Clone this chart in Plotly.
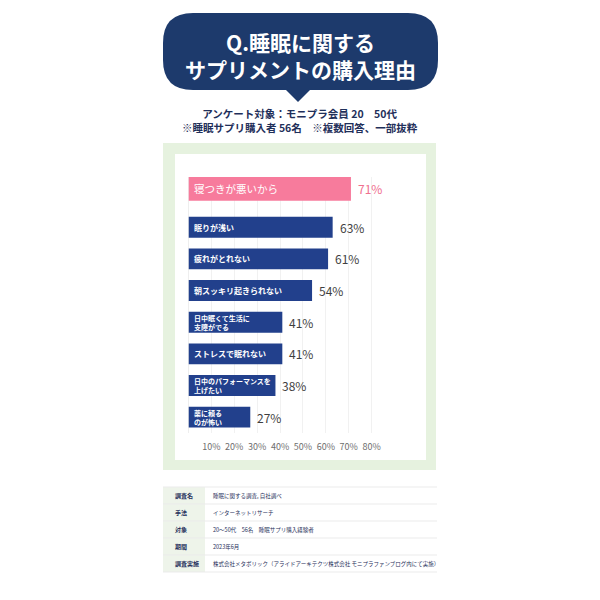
import plotly.graph_objects as go

# survey answers (top to bottom), "<br>" marks a line break inside the bar
reasons = [
    "寝つきが悪いから",
    "眠りが浅い",
    "疲れがとれない",
    "朝スッキリ起きられない",
    "日中眠くて生活に<br>支障がでる",
    "ストレスで眠れない",
    "日中のパフォーマンスを<br>上げたい",
    "薬に頼る<br>のが怖い",
]
shares = [71, 63, 61, 54, 41, 41, 38, 27]
tick_vals = [10, 20, 30, 40, 50, 60, 70, 80]

title_lines = ["Q.睡眠に関する", "サプリメントの購入理由"]
subtitle_lines = ["アンケート対象：モニプラ会員 20　50代", "※睡眠サプリ購入者 56名　※複数回答、一部抜粋"]

table_labels = ["調査名", "手法", "対象", "期間", "調査実施"]
table_values = [
    "睡眠に関する調査, 自社調べ",
    "インターネットリサーチ",
    "20〜50代　56名　睡眠サプリ購入経験者",
    "2023年6月",
    "株式会社メタボリック（アライドアーキテクツ株式会社 モニプラファンブログ内にて実施）",
]

NAVY = "#22408c"
PINK = "#f77b9c"
BUBBLE = "#1d3a6c"
TEXT_NAVY = "#1f2f5a"
FONT = "Noto Sans CJK JP"
W = H = 600


def px(x):
    return x / W


def py(y):
    return 1 - y / H


def rounded_rect(x0, y0, x1, y1, r):
    return (f"M {px(x0 + r)},{py(y0)} L {px(x1 - r)},{py(y0)} "
            f"Q {px(x1)},{py(y0)} {px(x1)},{py(y0 + r)} L {px(x1)},{py(y1 - r)} "
            f"Q {px(x1)},{py(y1)} {px(x1 - r)},{py(y1)} L {px(x0 + r)},{py(y1)} "
            f"Q {px(x0)},{py(y1)} {px(x0)},{py(y1 - r)} L {px(x0)},{py(y0 + r)} "
            f"Q {px(x0)},{py(y0)} {px(x0 + r)},{py(y0)} Z")


highlight = [i == 0 for i in range(len(reasons))]
bar_colors = [PINK if h else NAVY for h in highlight]
bar_widths = [0.75 if h else 0.66 for h in highlight]
bar_offsets = [-0.585 if h else -0.33 for h in highlight]

fig = go.Figure()
fig.add_trace(go.Bar(
    x=shares,
    y=reasons,
    orientation="h",
    marker=dict(color=bar_colors, line=dict(width=0)),
    width=bar_widths,
    offset=bar_offsets,
    hoverinfo="skip",
))

annotations = []
for r, v, h in zip(reasons, shares, highlight):
    shift = 6.7 if h else 0
    # value label at the end of the bar
    annotations.append(dict(
        x=v, y=r, xref="x", yref="y", text=f"{v}%", showarrow=False,
        xanchor="left", yanchor="middle", xshift=5, yshift=shift,
        font=dict(family=FONT, size=12, color="#f0708f" if h else "#3f3f3f"),
    ))
    # category name inside the bar, left aligned
    if h:
        size = 10.5
    elif "<br>" in r:
        size = 7
    else:
        size = 8
    annotations.append(dict(
        x=0, y=r, xref="x", yref="y", text=r if h else f"<b>{r}</b>", showarrow=False,
        xanchor="left", yanchor="middle", align="left", xshift=3, yshift=shift,
        font=dict(family=FONT, size=size, color="white"),
    ))

# title bubble text and subtitle
annotations.append(dict(
    x=px(300), y=py(55.5), xref="paper", yref="paper", showarrow=False,
    xanchor="center", yanchor="middle", align="center",
    text="<br>".join(title_lines),
    font=dict(family=FONT, size=21, color="white", weight="bold"),
))
annotations.append(dict(
    x=px(300), y=py(120.5), xref="paper", yref="paper", showarrow=False,
    xanchor="center", yanchor="middle", align="center",
    text="<br>".join(subtitle_lines),
    font=dict(family=FONT, size=10.5, color=TEXT_NAVY, weight="bold"),
))

shapes = [
    dict(type="path", path=rounded_rect(163, 13, 438, 90, 30),
         xref="paper", yref="paper", fillcolor=BUBBLE, line=dict(width=0), layer="below"),
    dict(type="path",
         path=f"M {px(285)},{py(89)} L {px(298)},{py(102)} L {px(311)},{py(89)} Z",
         xref="paper", yref="paper", fillcolor=BUBBLE, line=dict(width=0), layer="below"),
    dict(type="rect", x0=px(163), x1=px(436), y0=py(470), y1=py(143),
         xref="paper", yref="paper", fillcolor="#e6f2df", line=dict(width=0), layer="below"),
    dict(type="rect", x0=px(175), x1=px(426), y0=py(460), y1=py(154),
         xref="paper", yref="paper", fillcolor="white", line=dict(width=0), layer="below"),
]

# survey info table
row_top, row_h = 487, 17
for i, (lab, val) in enumerate(zip(table_labels, table_values)):
    y0 = row_top + i * row_h
    shapes.append(dict(type="rect", x0=px(163), x1=px(205), y0=py(y0 + row_h), y1=py(y0),
                       xref="paper", yref="paper", fillcolor="#eef4ea",
                       line=dict(width=0), layer="below"))
    annotations.append(dict(
        x=px(173), y=py(y0 + row_h / 2), xref="paper", yref="paper", showarrow=False,
        xanchor="left", yanchor="middle", text=lab,
        font=dict(family=FONT, size=6, color=TEXT_NAVY, weight="bold"),
    ))
    annotations.append(dict(
        x=px(211), y=py(y0 + row_h / 2), xref="paper", yref="paper", showarrow=False,
        xanchor="left", yanchor="middle", text=val,
        font=dict(family=FONT, size=5.5, color=TEXT_NAVY),
    ))
for i in range(len(table_labels) + 1):
    yl = row_top + i * row_h
    shapes.append(dict(type="line", x0=px(163), x1=px(437), y0=py(yl), y1=py(yl),
                       xref="paper", yref="paper", line=dict(color="#ebebeb", width=1),
                       layer="below"))

fig.update_layout(
    width=W, height=H,
    margin=dict(l=0, r=0, t=0, b=0),
    paper_bgcolor="white",
    plot_bgcolor="rgba(0,0,0,0)",
    showlegend=False,
    font=dict(family=FONT),
    shapes=shapes,
    annotations=annotations,
    xaxis=dict(
        domain=[px(188.5), px(383)],
        range=[0, 85],
        tickvals=tick_vals,
        ticktext=[f"{v}%" for v in tick_vals],
        tickfont=dict(family=FONT, size=9, color="#6e6e6e"),
        ticks="outside", ticklen=5, tickcolor="rgba(0,0,0,0)",
        showgrid=True, gridcolor="#f1f1f1", gridwidth=1,
        zeroline=True, zerolinecolor="#eeeeee", zerolinewidth=1,
        showline=False, fixedrange=True,
    ),
    yaxis=dict(
        domain=[py(433), py(177)],
        type="category",
        autorange="reversed",
        showticklabels=False,
        showgrid=False, zeroline=False, showline=False, ticks="",
        fixedrange=True,
    ),
)

fig.write_html("out.html", config={"displayModeBar": False},
               post_script="document.body.style.margin='0';")
